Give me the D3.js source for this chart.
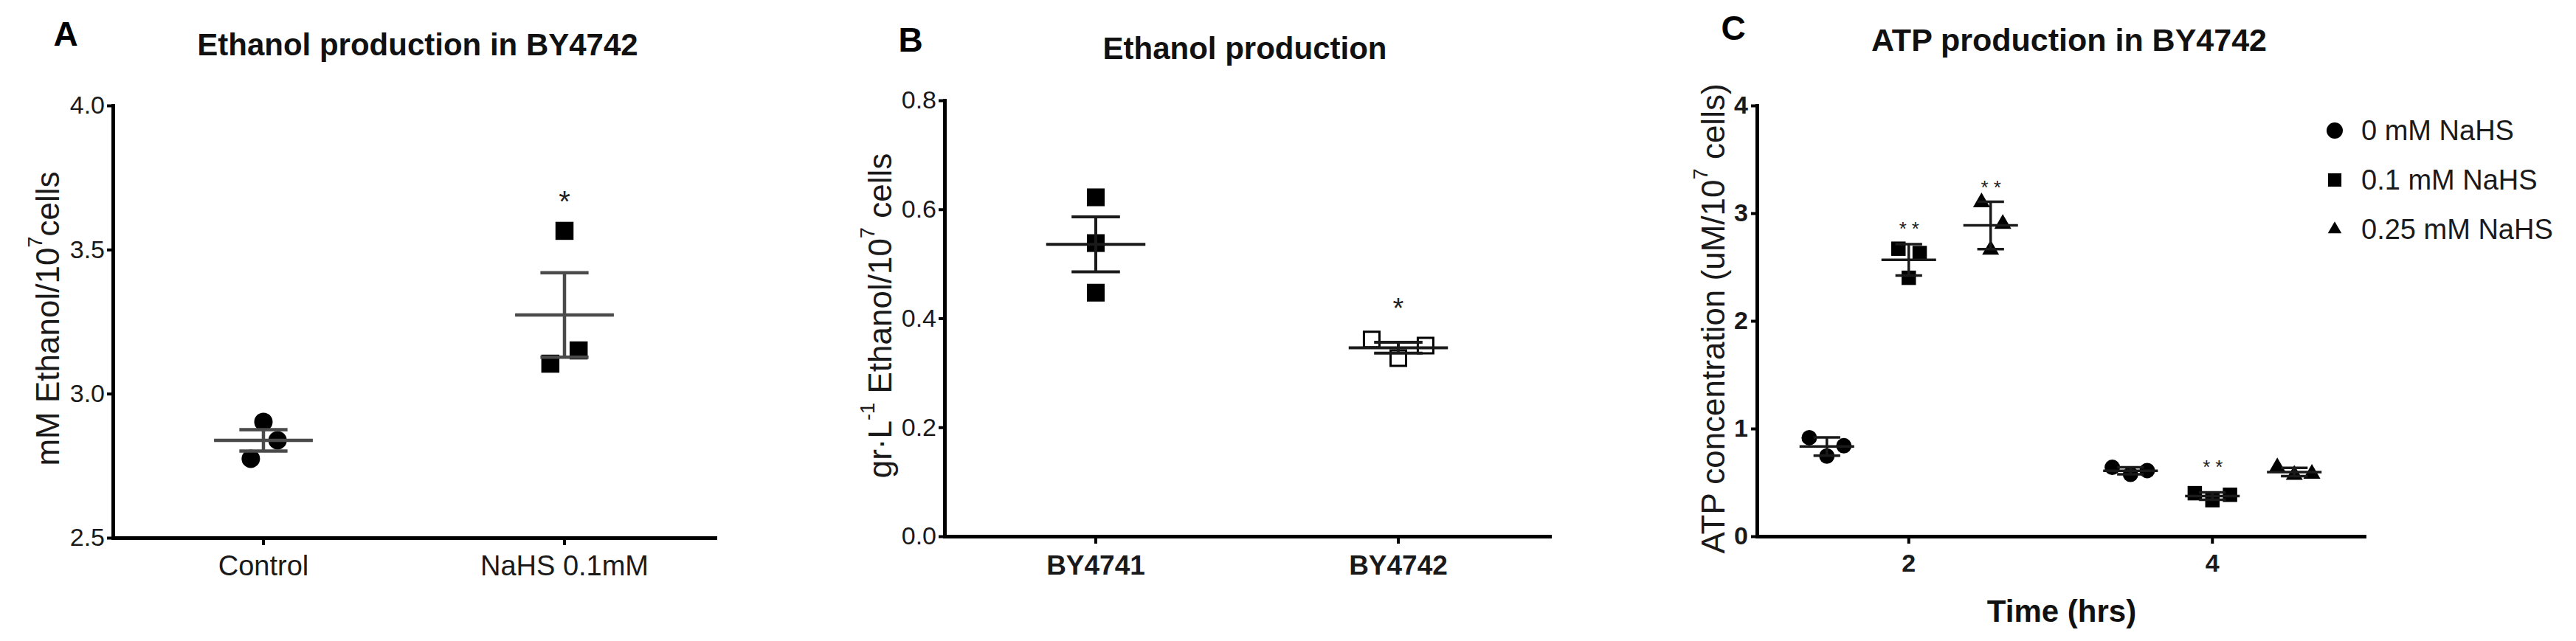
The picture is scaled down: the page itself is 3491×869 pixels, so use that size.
<!DOCTYPE html>
<html><head><meta charset="utf-8">
<script src="https://cdn.jsdelivr.net/npm/d3@7"></script>
<style>
body{margin:0;background:#fff}
svg{display:block}
text{font-family:"Liberation Sans",Arial,Helvetica,sans-serif}
</style>
</head><body>
<svg id="chart" width="3491" height="869"></svg>
<script>
// ---------------- DATA ----------------
// Panel A
const catsA = ["Control", "NaHS 0.1mM"];
const ethanolControlA = [2.902, 2.838, 2.774];
const ethanolNaHSA = [3.565, 3.150, 3.104];
const xOffsetA = [[0, 0.047, -0.042], [0, 0.047, -0.047]]; // x of each replicate, in category units
const yTicksA = [2.5, 3.0, 3.5, 4.0];
const sigA = [{cat: "NaHS 0.1mM", y: 3.69, label: "*"}];

// Panel B
const catsB = ["BY4741", "BY4742"];
const ethanolBY4741 = [0.622, 0.538, 0.447];
const ethanolBY4742 = [0.361, 0.327, 0.350];
const xOffsetB = [[0, 0, 0], [-0.088, 0, 0.09]];
const yTicksB = [0.0, 0.2, 0.4, 0.6, 0.8];
const sigB = [{cat: "BY4742", y: 0.43, label: "*"}];

// Panel C
const timesC = ["2", "4"];
const treatmentsC = ["0 mM NaHS", "0.1 mM NaHS", "0.25 mM NaHS"];
const atp0mM   = [[0.915, 0.84, 0.745], [0.64, 0.575, 0.61]];
const atp01mM  = [[2.67, 2.63, 2.40],   [0.40, 0.335, 0.385]];
const atp025mM = [[3.10, 2.90, 2.66],   [0.64, 0.57, 0.58]];
const xOffsetC0   = [[-0.058, 0.056, 0], [-0.06, 0, 0.055]];
const xOffsetC01  = [[-0.034, 0.036, 0], [-0.058, 0, 0.058]];
const xOffsetC025 = [[-0.03, 0.04, 0],   [-0.056, 0, 0.058]];
const yTicksC = [0, 1, 2, 3, 4];
const sigC = [
  {time: "2", treatment: "0.1 mM NaHS", y: 2.90, label: "**"},
  {time: "2", treatment: "0.25 mM NaHS", y: 3.28, label: "**"},
  {time: "4", treatment: "0.1 mM NaHS", y: 0.685, label: "**"}
];

// ---------------- DRAW ----------------
const svg = d3.select("#chart");
const FONT = '"Liberation Sans",Arial,Helvetica,sans-serif';

function styleAxis(g, opt) {
  g.select(".domain").attr("stroke", "#000").attr("stroke-width", opt.domainW).attr("stroke-linecap", "square");
  g.selectAll(".tick line").attr("stroke", "#000").attr("stroke-width", opt.tickW);
  g.selectAll(".tick text").attr("font-size", opt.fs).attr("font-weight", opt.bold ? "bold" : "normal")
    .attr("fill", "#1a1a1a").attr("font-family", FONT);
}

function sem(v) { return d3.deviation(v) / Math.sqrt(v.length); }

function drawGroup(g, cx, vals, offs, bw, y, sym, errFn, st) {
  vals.forEach((v, i) => {
    g.append("path")
      .attr("d", d3.symbol().type(sym.type).size(sym.size)())
      .attr("transform", `translate(${cx + offs[i] * bw},${y(v)})`)
      .attr("fill", sym.fill).attr("stroke", sym.stroke || "none").attr("stroke-width", sym.strokeW || 0);
  });
  const m = d3.mean(vals), e = errFn(vals);
  const eg = g.append("g").attr("stroke", st.color).attr("stroke-width", st.w).attr("fill", "none");
  eg.append("line").attr("x1", cx - st.meanHalf * bw).attr("x2", cx + st.meanHalf * bw).attr("y1", y(m)).attr("y2", y(m));
  eg.append("line").attr("x1", cx).attr("x2", cx).attr("y1", y(m - e)).attr("y2", y(m + e));
  [m - e, m + e].forEach(b => eg.append("line").attr("x1", cx - st.capHalf * bw).attr("x2", cx + st.capHalf * bw).attr("y1", y(b)).attr("y2", y(b)));
}

function starText(g, x, yPix, label, fs, ls) {
  g.append("text").attr("x", x).attr("y", yPix + 0.575 * fs).attr("text-anchor", "middle")
    .attr("font-size", fs).attr("fill", "#222").attr("letter-spacing", ls || 0).text(label);
}

function yLabel(g, cx, cy, parts, fs) {
  const t = g.append("text").attr("transform", `translate(${cx},${cy}) rotate(-90)`)
    .attr("text-anchor", "middle").attr("dominant-baseline", "central").attr("font-size", fs).attr("fill", "#1a1a1a");
  let shifted = false;
  parts.forEach(p => {
    const ts = t.append("tspan").text(p.t);
    if (p.sup) { ts.attr("font-size", fs * 0.62).attr("dy", -fs * 0.38); shifted = true; }
    else if (shifted) { ts.attr("dy", fs * 0.38); shifted = false; }
  });
}

function title(x, y, txt, fs) {
  svg.append("text").attr("x", x).attr("y", y).attr("text-anchor", "middle").attr("font-weight", "bold")
    .attr("font-size", fs).attr("fill", "#111").text(txt);
}

// ===== Panel A =====
{
  const g = svg.append("g");
  const x = d3.scaleBand().domain(catsA).range([153, 969]).padding(0);
  const y = d3.scaleLinear().domain([2.5, 4.0]).range([729, 143]);
  const bw = x.bandwidth();
  const gy = g.append("g").attr("transform", "translate(153,0)")
    .call(d3.axisLeft(y).tickValues(yTicksA).tickFormat(d3.format(".1f")).tickSize(8).tickSizeOuter(0).tickPadding(3));
  styleAxis(gy, {domainW: 5, tickW: 4, fs: 34});
  const gx = g.append("g").attr("transform", "translate(0,729)")
    .call(d3.axisBottom(x).tickSize(10).tickSizeOuter(0).tickPadding(14));
  styleAxis(gx, {domainW: 5, tickW: 4, fs: 38});
  const series = [ethanolControlA, ethanolNaHSA];
  const syms = [{type: d3.symbolCircle, size: 491, fill: "#000"}, {type: d3.symbolSquare, size: 600, fill: "#000"}];
  catsA.forEach((c, i) => drawGroup(g, x(c) + bw / 2, series[i], xOffsetA[i], bw, y, syms[i], sem,
    {color: "#4a4a4a", w: 4.5, meanHalf: 0.164, capHalf: 0.08}));
  sigA.forEach(s => starText(g, x(s.cat) + bw / 2, y(s.y), s.label, 40));
  yLabel(g, 64, 432, [{t: "mM Ethanol/10"}, {t: "7", sup: true}, {t: "cells"}], 44);
  title(566, 75, "Ethanol production in BY4742", 42);
  svg.append("text").attr("x", 89).attr("y", 62).attr("text-anchor", "middle").attr("font-weight", "bold").attr("font-size", 46).text("A");
}

// ===== Panel B =====
{
  const g = svg.append("g");
  const x = d3.scaleBand().domain(catsB).range([1280, 2100]).padding(0);
  const y = d3.scaleLinear().domain([0, 0.8]).range([727, 136]);
  const bw = x.bandwidth();
  const gy = g.append("g").attr("transform", "translate(1280,0)")
    .call(d3.axisLeft(y).tickValues(yTicksB).tickFormat(d3.format(".1f")).tickSize(8).tickSizeOuter(0).tickPadding(3));
  styleAxis(gy, {domainW: 5, tickW: 4, fs: 34});
  const gx = g.append("g").attr("transform", "translate(0,727)")
    .call(d3.axisBottom(x).tickSize(10).tickSizeOuter(0).tickPadding(16));
  styleAxis(gx, {domainW: 5, tickW: 4, fs: 37, bold: true});
  const series = [ethanolBY4741, ethanolBY4742];
  const syms = [{type: d3.symbolSquare, size: 580, fill: "#000"},
                {type: d3.symbolSquare, size: 441, fill: "#fff", stroke: "#000", strokeW: 3}];
  catsB.forEach((c, i) => drawGroup(g, x(c) + bw / 2, series[i], xOffsetB[i], bw, y, syms[i], sem,
    {color: "#1a1a1a", w: 4, meanHalf: 0.164, capHalf: 0.08}));
  sigB.forEach(s => starText(g, x(s.cat) + bw / 2, y(s.y), s.label, 38));
  yLabel(g, 1192, 428, [{t: "gr·L"}, {t: "-1", sup: true}, {t: " Ethanol/10"}, {t: "7", sup: true}, {t: " cells"}], 44);
  title(1687, 80, "Ethanol production", 42);
  svg.append("text").attr("x", 1234).attr("y", 70).attr("text-anchor", "middle").attr("font-weight", "bold").attr("font-size", 46).text("B");
}

// ===== Panel C =====
{
  const g = svg.append("g");
  const x = d3.scaleBand().domain(timesC).range([2381, 3204]).padding(0);
  const xs = d3.scaleBand().domain(treatmentsC).range([0, x.bandwidth()]).paddingInner(0).paddingOuter(0.354);
  const y = d3.scaleLinear().domain([0, 4]).range([727, 143]);
  const bw = x.bandwidth();
  const gy = g.append("g").attr("transform", "translate(2381,0)")
    .call(d3.axisLeft(y).tickValues(yTicksC).tickFormat(d3.format("d")).tickSize(8).tickSizeOuter(0).tickPadding(4));
  styleAxis(gy, {domainW: 5, tickW: 4, fs: 34, bold: true});
  const gx = g.append("g").attr("transform", "translate(0,727)")
    .call(d3.axisBottom(x).tickSize(10).tickSizeOuter(0).tickPadding(14));
  styleAxis(gx, {domainW: 5, tickW: 4, fs: 34, bold: true});
  const series = [atp0mM, atp01mM, atp025mM];
  const offs = [xOffsetC0, xOffsetC01, xOffsetC025];
  const syms = [{type: d3.symbolCircle, size: 346, fill: "#000"},
                {type: d3.symbolSquare, size: 380, fill: "#000"},
                {type: d3.symbolTriangle, size: 230, fill: "#000"}];
  const sd = v => d3.deviation(v);
  timesC.forEach((t, ti) => treatmentsC.forEach((tr, k) => {
    const cx = x(t) + xs(tr) + xs.bandwidth() / 2;
    drawGroup(g, cx, series[k][ti], offs[k][ti], bw, y, syms[k], sd,
      {color: "#1a1a1a", w: 3.5, meanHalf: 0.09, capHalf: 0.044});
  }));
  sigC.forEach(s => starText(g, x(s.time) + xs(s.treatment) + xs.bandwidth() / 2 + 4, y(s.y), s.label, 26, 7));
  yLabel(g, 2321, 432, [{t: "ATP concentration (uM/10"}, {t: "7", sup: true}, {t: " cells)"}], 44);
  title(2804, 69, "ATP production in BY4742", 43);
  svg.append("text").attr("x", 2794).attr("y", 843).attr("text-anchor", "middle").attr("font-weight", "bold").attr("font-size", 42).attr("fill", "#111").text("Time (hrs)");
  svg.append("text").attr("x", 2349).attr("y", 54).attr("text-anchor", "middle").attr("font-weight", "bold").attr("font-size", 46).text("C");
  // legend
  const legSyms = [{type: d3.symbolCircle, size: 380}, {type: d3.symbolSquare, size: 330}, {type: d3.symbolTriangle, size: 150}];
  const lg = g.append("g").attr("transform", "translate(3164,177)");
  treatmentsC.forEach((tr, k) => {
    const row = lg.append("g").attr("transform", `translate(0,${k * 67})`);
    row.append("path").attr("d", d3.symbol().type(legSyms[k].type).size(legSyms[k].size)()).attr("fill", "#000");
    row.append("text").attr("x", 36).attr("y", 0).attr("dominant-baseline", "central").attr("font-size", 38).attr("fill", "#1a1a1a").text(tr);
  });
}
</script>
</body></html>
